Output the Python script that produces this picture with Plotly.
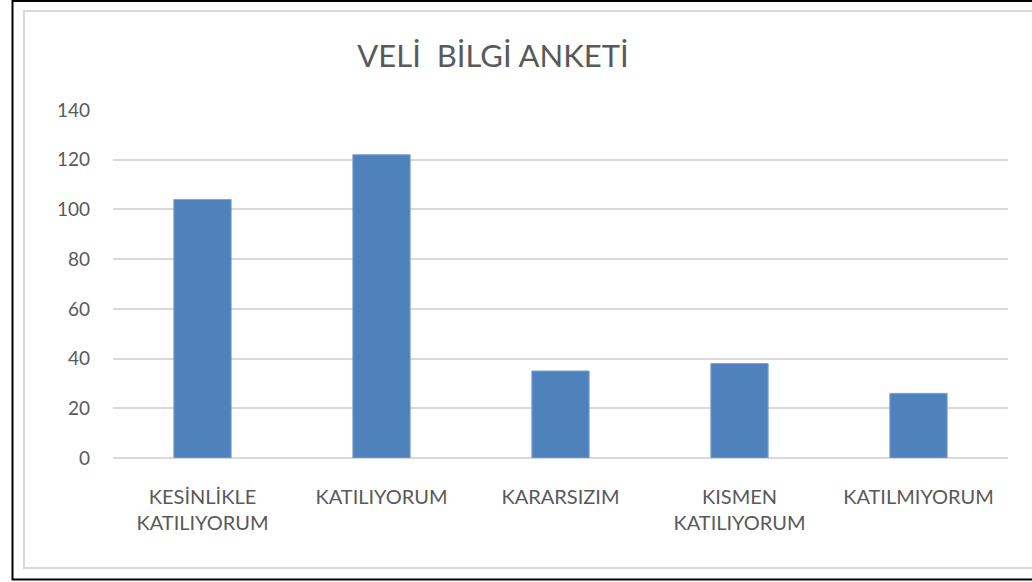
import plotly.graph_objects as go

categories = ["KESİNLİKLE<br>KATILIYORUM", "KATILIYORUM", "KARARSIZIM", "KISMEN<br>KATILIYORUM", "KATILMIYORUM"]
values = [104, 122, 35, 38, 26]
y_ticks = [0, 20, 40, 60, 80, 100, 120, 140]
title_text = "VELİ  BİLGİ ANKETİ"

W, H = 1032, 582
ml, mr, mt, mb = 113, 24, 110, 124
pw, ph = W - ml - mr, H - mt - mb

def px(x):
    return (x - ml) / pw

def py(y):
    return (H - mb - y) / ph

fig = go.Figure(go.Bar(
    x=categories, y=values,
    marker=dict(color="#4f81bd", line=dict(color="#7fa2d0", width=1)),
    width=0.32,
))

fig.update_layout(
    width=W, height=H,
    margin=dict(l=ml, r=mr, t=mt, b=mb),
    paper_bgcolor="white", plot_bgcolor="white",
    font=dict(family="Lato, Carlito, Calibri, sans-serif", color="#595959", size=19),
    title=dict(text=title_text, x=493 / W, xanchor="center", y=1 - 56 / H, yanchor="middle",
               font=dict(size=31, color="#595959")),
    showlegend=False,
    xaxis=dict(showgrid=False, showline=False, ticks="", tickfont=dict(size=20),
               ticklabelstandoff=25),
    yaxis=dict(range=[0, 140], tickvals=y_ticks, showgrid=True, gridcolor="#d9d9d9",
               gridwidth=1.5, zeroline=True, zerolinecolor="#d9d9d9", zerolinewidth=1.5,
               showline=False, ticks="", tickfont=dict(size=19), ticklabelstandoff=22),
    shapes=[
        dict(type="rect", xref="paper", yref="paper",
             x0=px(24), x1=px(1045), y0=py(568), y1=py(11),
             line=dict(color="#d9d9d9", width=2), fillcolor="rgba(0,0,0,0)", layer="below"),
        dict(type="rect", xref="paper", yref="paper",
             x0=px(12.5), x1=px(1050), y0=py(579.5), y1=py(1),
             line=dict(color="black", width=2), fillcolor="rgba(0,0,0,0)", layer="above"),
    ],
)

fig.write_html("out.html", config={"displayModeBar": False},
               post_script="document.body.style.margin='0';document.body.style.overflow='hidden';")
